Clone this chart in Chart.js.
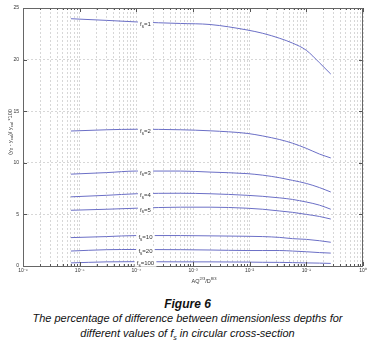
<!DOCTYPE html>
<html>
<head>
<meta charset="utf-8">
<script src="https://cdn.jsdelivr.net/npm/chart.js@4/dist/chart.umd.min.js"></script>
<style>
body{margin:0;background:#fff;width:375px;height:351px;overflow:hidden;font-family:Arial,"Liberation Sans",sans-serif;}
#wrap{position:relative;width:375px;height:290px;}
.cap{text-align:center;font-style:italic;color:#111;}
.cap sub{font-size:7px;line-height:0;vertical-align:-3px;}
</style>
</head>
<body>
<div id="wrap"><canvas id="myChart"></canvas></div>
<div class="cap" style="font-weight:bold;font-size:12px;line-height:14px;margin-top:7px">Figure 6</div>
<div class="cap" style="font-size:11px;line-height:15px;">The percentage of difference between dimensionless depths for<br>different values of f<sub>s</sub> in circular cross-section</div>
<script>
//---------- data ----------
const xVals=[7e-6,3e-5,1e-4,6e-4,2e-3,9e-3,0.017,0.034,0.057,0.1,0.17,0.27];
const fsValues=['1','2','3','4','5','10','20','100'];
const fs1=[23.96,23.8,23.65,23.5,23.4,22.87,22.55,22.06,21.6,20.9,19.7,18.6];
const fs2=[13.08,13.2,13.25,13.2,13.1,12.85,12.6,12.25,11.9,11.4,10.85,10.47];
const fs3=[8.9,9.05,9.2,9.2,9.1,8.95,8.8,8.55,8.3,8.0,7.6,7.17];
const fs4=[6.7,6.85,7.0,7.05,7.0,6.85,6.75,6.6,6.45,6.2,5.9,5.5];
const fs5=[5.4,5.5,5.6,5.7,5.7,5.6,5.5,5.33,5.2,5.0,4.8,4.55];
const fs10=[2.75,2.85,2.95,2.95,2.92,2.88,2.85,2.77,2.65,2.58,2.45,2.3];
const fs20=[1.45,1.58,1.6,1.58,1.55,1.5,1.5,1.5,1.45,1.38,1.3,1.25];
const fs100=[0.3,0.4,0.42,0.4,0.4,0.38,0.36,0.35,0.33,0.3,0.28,0.25];
const allSeries=[fs1,fs2,fs3,fs4,fs5,fs10,fs20,fs100];
const xDecades=[-6,-5,-4,-3,-2,-1,0];
const yTicks=[0,5,10,15,20,25];
const labelX=1.45e-4; // where the f_s labels sit on the curves

const lineColor='#6b6fc6';
const gridColor='#cdcdcd';
const supDigits={'-':'⁻','0':'⁰','1':'¹','2':'²','3':'³','4':'⁴','5':'⁵','6':'⁶'};

// draw text made of parts: [text, shift] shift -1 = subscript, 1 = superscript
function drawRich(ctx,parts,x,y,size){
  const widths=parts.map(p=>{
    ctx.font=(p[1]?size*0.75:size)+'px Arial, "Liberation Sans", sans-serif';
    return ctx.measureText(p[0]).width;
  });
  const total=widths.reduce((a,b)=>a+b,0);
  let cx=x-total/2;
  parts.forEach((p,i)=>{
    ctx.font=(p[1]?size*0.75:size)+'px Arial, "Liberation Sans", sans-serif';
    const dy=p[1]===-1?size*0.35:(p[1]===1?-size*0.4:0);
    ctx.fillText(p[0],cx,y+dy);
    cx+=widths[i];
  });
  return total;
}

function interpY(series,xv){
  const lx=Math.log10(xv);
  for(let i=0;i<xVals.length-1;i++){
    const a=Math.log10(xVals[i]),b=Math.log10(xVals[i+1]);
    if(lx>=a&&lx<=b){return series[i]+(series[i+1]-series[i])*(lx-a)/(b-a);}
  }
  return series[0];
}

const decorPlugin={
  id:'decor',
  afterDatasetsDraw(chart){
    const {ctx,chartArea:a,scales:{x,y}}=chart;
    ctx.save();
    // inward tick marks
    ctx.strokeStyle='#555';ctx.lineWidth=1;
    ctx.beginPath();
    x.ticks.forEach(t=>{
      const px=Math.round(x.getPixelForValue(t.value))+0.5;
      const lg=Math.log10(t.value);
      const len=Math.abs(lg-Math.round(lg))<1e-6?4:2;
      ctx.moveTo(px,a.bottom);ctx.lineTo(px,a.bottom-len);
      ctx.moveTo(px,a.top);ctx.lineTo(px,a.top+len);
    });
    y.ticks.forEach(t=>{
      const py=Math.round(y.getPixelForValue(t.value))+0.5;
      ctx.moveTo(a.left,py);ctx.lineTo(a.left+4,py);
      ctx.moveTo(a.right,py);ctx.lineTo(a.right-4,py);
    });
    ctx.stroke();
    // box
    ctx.strokeStyle='#666';
    ctx.strokeRect(Math.round(a.left)+0.5,Math.round(a.top)+0.5,Math.round(a.width)-1,Math.round(a.height));
    // curve labels
    ctx.textBaseline='middle';ctx.textAlign='left';
    const px=x.getPixelForValue(labelX);
    allSeries.forEach((s,i)=>{
      const py=y.getPixelForValue(interpY(s,labelX))+2;
      const parts=[['f',0],['s',-1],['='+fsValues[i],0]];
      ctx.font='6px Arial, "Liberation Sans", sans-serif';
      const w=ctx.measureText('f s='+fsValues[i]).width;
      ctx.fillStyle='#fff';ctx.fillRect(px-w/2-1,py-4,w+2,7);
      ctx.fillStyle='#333';
      drawRich(ctx,parts,px,py,6);
    });
    // axis titles
    ctx.fillStyle='#333';
    drawRich(ctx,[['AQ',0],['2/3',1],['/D',0],['8/3',1]],204,281,5.5);
    ctx.translate(10,132);ctx.rotate(-Math.PI/2);
    drawRich(ctx,[['(y',0],['0',-1],[' - y',0],['cal',-1],[')/ y',0],['cal',-1],[' *100',0]],0,0,5.5);
    ctx.restore();
  }
};

const ctx=document.getElementById('myChart');
const data={
  datasets:allSeries.map((s,i)=>({
    label:'fs='+fsValues[i],
    data:xVals.map((xv,j)=>({x:xv,y:s[j]})),
    borderColor:lineColor,
    borderWidth:1,
    pointRadius:0,
    cubicInterpolationMode:'monotone'
  }))
};
const options={
  responsive:true,
  maintainAspectRatio:false,
  animation:false,
  layout:{padding:{top:8,right:12,left:0,bottom:0}},
  plugins:{legend:{display:false},tooltip:{enabled:false}},
  scales:{
    x:{
      type:'logarithmic',
      min:1e-6,max:1,
      afterBuildTicks:axis=>{
        const t=[];
        xDecades.forEach(e=>{
          const top=e===0?1:9;
          for(let k=1;k<=top;k++) t.push({value:k*Math.pow(10,e)});
        });
        axis.ticks=t;
      },
      afterFit:scale=>{scale.height=24;},
      ticks:{
        autoSkip:false,maxRotation:0,padding:2,color:'#333',
        font:{size:5,family:'Arial, "Liberation Sans", sans-serif'},
        callback:function(value){
          const e=Math.round(Math.log10(value));
          if(Math.abs(Math.log10(value)-e)>1e-6) return '';
          return '10'+String(e).split('').map(c=>supDigits[c]).join('');
        }
      },
      grid:{color:gridColor,lineWidth:0.8,drawTicks:false},
      border:{display:false,dash:[2,2]}
    },
    y:{
      min:0,max:25,
      afterBuildTicks:axis=>{axis.ticks=yTicks.map(v=>({value:v}));},
      afterFit:scale=>{scale.width=23;},
      ticks:{padding:4,color:'#333',font:{size:5,family:'Arial, "Liberation Sans", sans-serif'}},
      grid:{color:gridColor,lineWidth:0.8,drawTicks:false},
      border:{display:false,dash:[2,2]}
    }
  }
};
const chart=new Chart(ctx,{type:'line',data:data,options:options,plugins:[decorPlugin]});
</script>
</body>
</html>
